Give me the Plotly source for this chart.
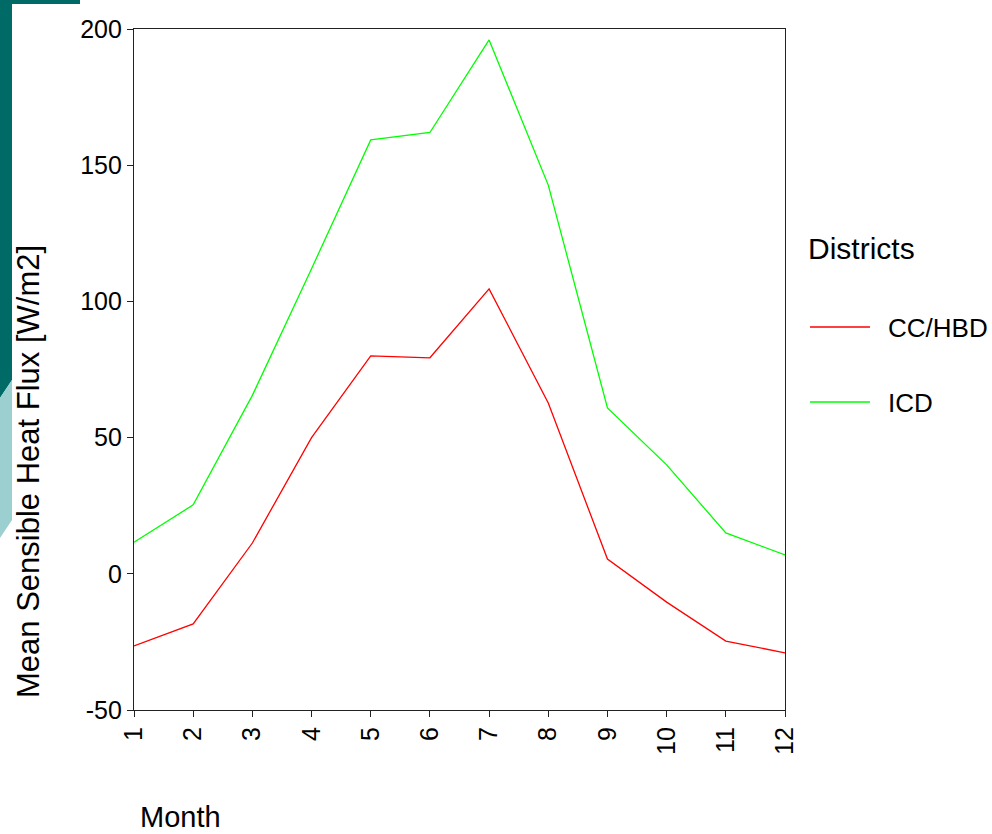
import plotly.graph_objects as go

# ---- data ----
months = [1, 2, 3, 4, 5, 6, 7, 8, 9, 10, 11, 12]
cc_hbd = [-26.5, -18.4, 11.3, 50.0, 80.0, 79.3, 104.6, 62.7, 5.4, -10.4, -24.7, -29.0]
icd = [11.6, 25.3, 65.5, 112.0, 159.3, 162.0, 196.0, 142.7, 60.9, 40.0, 15.0, 6.9]
y_ticks = [-50, 0, 50, 100, 150, 200]
y_tick_labels = ["-50", "0", "50", "100", "150", "200"]
series_names = ["CC/HBD", "ICD"]
series_colors = ["#ff0000", "#00ff00"]

W, H = 992, 834
L, R, T, B = 134, 785, 29, 710  # plot area pixel bounds
FONT = "Arial, Liberation Sans, sans-serif"


def px(x):
    return (x - L) / (R - L)


def py(y):
    return 1 - (y - T) / (B - T)


def path(points):
    s = "M" + " L".join(f"{px(x):.5f},{py(y):.5f}" for x, y in points) + " Z"
    return s


fig = go.Figure()
for name, vals, col in zip(series_names, [cc_hbd, icd], series_colors):
    fig.add_trace(go.Scatter(x=months, y=vals, mode="lines", name=name,
                             line=dict(color=col, width=1.3), showlegend=False))

shapes = [
    # slide decoration on the left
    dict(type="path", xref="paper", yref="paper", layer="below",
         path=path([(0, 0), (80, 0), (80, 4), (12, 4), (12, 380), (0, 398)]),
         fillcolor="#006b66", line=dict(width=0)),
    dict(type="path", xref="paper", yref="paper", layer="below",
         path=path([(0, 398), (12, 380), (12, 520), (0, 538)]),
         fillcolor="#9ccfcf", line=dict(width=0)),
    # legend line samples
    dict(type="line", xref="paper", yref="paper", x0=px(810), x1=px(870), y0=py(327), y1=py(327),
         line=dict(color=series_colors[0], width=1.3)),
    dict(type="line", xref="paper", yref="paper", x0=px(810), x1=px(870), y0=py(402), y1=py(402),
         line=dict(color=series_colors[1], width=1.3)),
]

annotations = [
    dict(text="Mean Sensible Heat Flux [W/m2]", xref="paper", yref="paper",
         x=px(29), y=py(472), textangle=-90, showarrow=False,
         xanchor="center", yanchor="middle", font=dict(size=31, color="black", family=FONT)),
    dict(text="Month", xref="paper", yref="paper", x=px(180), y=py(817), showarrow=False,
         xanchor="center", yanchor="middle", font=dict(size=29, color="black", family=FONT)),
    dict(text="Districts", xref="paper", yref="paper", x=px(806), y=py(248), showarrow=False,
         xanchor="left", yanchor="middle", font=dict(size=30, color="black", family=FONT)),
    dict(text=series_names[0], xref="paper", yref="paper", x=px(886), y=py(328), showarrow=False,
         xanchor="left", yanchor="middle", font=dict(size=26, color="black", family=FONT)),
    dict(text=series_names[1], xref="paper", yref="paper", x=px(886), y=py(403), showarrow=False,
         xanchor="left", yanchor="middle", font=dict(size=26, color="black", family=FONT)),
]

fig.update_layout(
    width=W, height=H,
    margin=dict(l=L, r=W - R, t=T, b=H - B, pad=0),
    paper_bgcolor="white", plot_bgcolor="white",
    font=dict(family=FONT, color="black"),
    shapes=shapes, annotations=annotations,
    showlegend=False,
)
fig.update_xaxes(range=[1, 12], tickvals=months, ticktext=[str(m) for m in months],
                 tickangle=-90, ticks="outside", ticklen=6, tickcolor="#222",
                 showline=True, linecolor="#222", linewidth=1.2, mirror=True,
                 showgrid=False, zeroline=False, tickfont=dict(size=25, color="black"))
fig.update_yaxes(range=[-50, 200], tickvals=y_ticks, ticktext=y_tick_labels,
                 ticks="outside", ticklen=6, tickcolor="#222",
                 showline=True, linecolor="#222", linewidth=1.2, mirror=True,
                 showgrid=False, zeroline=False, tickfont=dict(size=25, color="black"))

fig.write_html("out.html", config={"displayModeBar": False},
               post_script="document.body.style.margin='0px';document.body.style.overflow='hidden';")
